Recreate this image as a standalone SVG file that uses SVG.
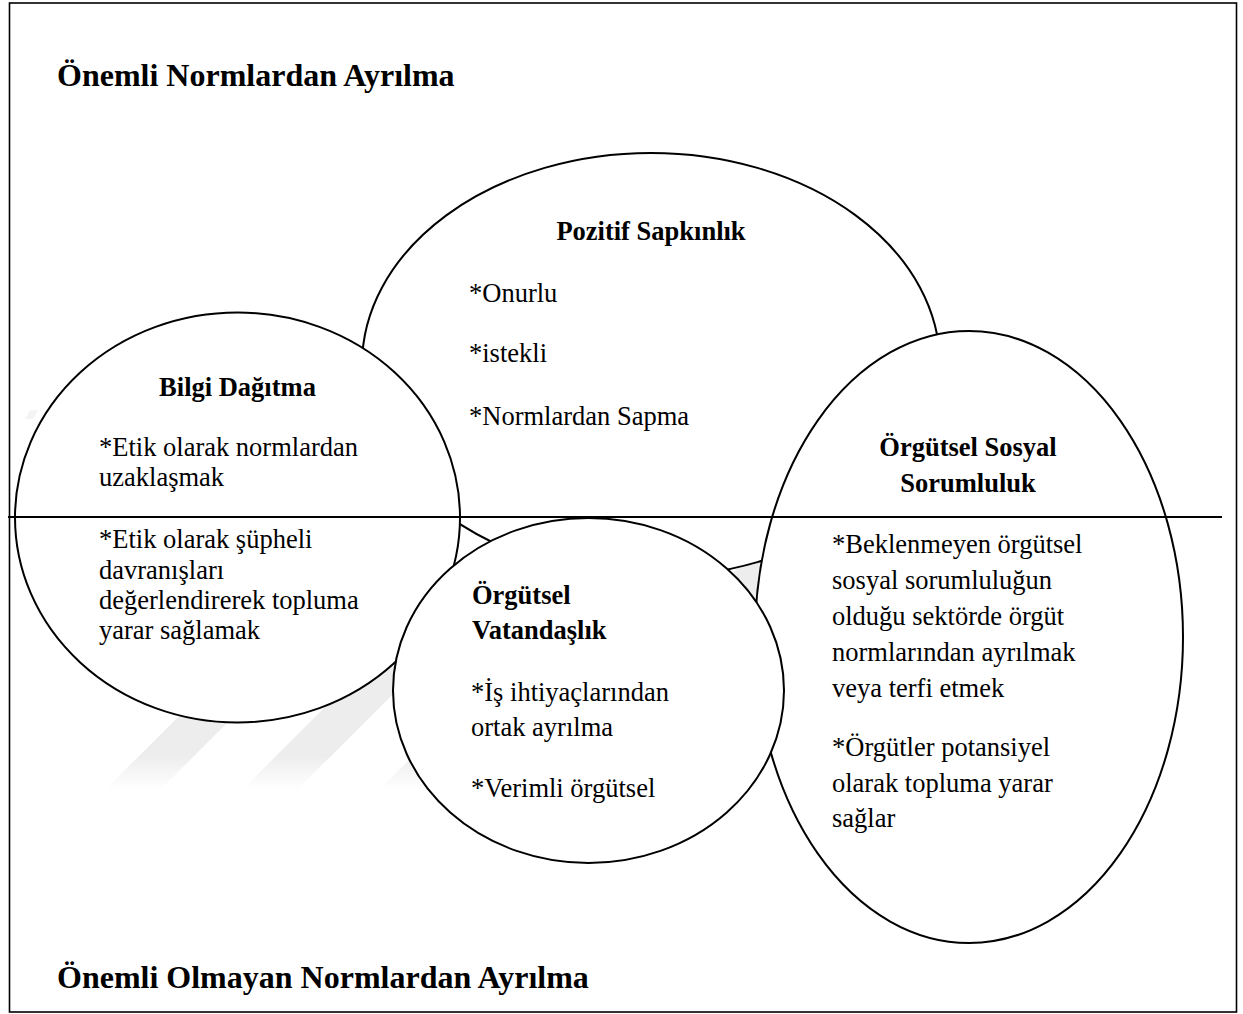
<svg xmlns="http://www.w3.org/2000/svg" width="1243" height="1014" viewBox="0 0 1243 1014">
  <style>
    .t { font-family: "Liberation Serif", "Times New Roman", serif; font-size: 26.5px; fill: #000; }
    .b { font-weight: bold; }
    .title { font-family: "Liberation Serif", "Times New Roman", serif; font-size: 32px; font-weight: bold; fill: #000; }
    .node { fill: #fff; stroke: #000; stroke-width: 2; }
    .stripe { fill: url(#fade); }
  </style>
  <defs>
    <linearGradient id="fade" gradientUnits="userSpaceOnUse" x1="0" y1="755" x2="0" y2="790">
      <stop offset="0" stop-color="#ededed"/>
      <stop offset="1" stop-color="#ffffff"/>
    </linearGradient>
  </defs>
  <rect x="0" y="0" width="1243" height="1014" fill="#fff"/>
  <g id="watermark">
    <polygon class="stripe" points="105,790 160,790 465,485 410,485"/>
    <polygon class="stripe" points="242,790 297,790 602,485 547,485"/>
    <polygon class="stripe" points="379,790 434,790 739,485 684,485"/>
    <polygon class="stripe" points="516,790 571,790 876,485 821,485"/>
    <polygon points="25,419 33,419 38,410 30,410" fill="#f4f4f4"/>
  </g>
  <rect id="frame" x="9.5" y="3" width="1227" height="1009" fill="none" stroke="#000" stroke-width="1.6"/>
  <g id="node-pozitif">
    <ellipse class="node" cx="651" cy="365" rx="289" ry="212"/>
    <text class="t b" x="651" y="240" text-anchor="middle">Pozitif Sapkınlık</text>
    <text class="t" x="469" y="302">*Onurlu</text>
    <text class="t" x="469" y="362">*istekli</text>
    <text class="t" x="469" y="425">*Normlardan Sapma</text>
  </g>
  <g id="node-bilgi">
    <ellipse class="node" cx="237.5" cy="517.5" rx="222.5" ry="205"/>
    <text class="t b" x="237.5" y="396" text-anchor="middle">Bilgi Dağıtma</text>
    <text class="t" x="99" y="456">*Etik olarak normlardan</text>
    <text class="t" x="99" y="486">uzaklaşmak</text>
    <text class="t" x="99" y="548">*Etik olarak şüpheli</text>
    <text class="t" x="99" y="579">davranışları</text>
    <text class="t" x="99" y="609">değerlendirerek topluma</text>
    <text class="t" x="99" y="639">yarar sağlamak</text>
  </g>
  <g id="node-sosyal">
    <ellipse class="node" cx="969" cy="637" rx="214" ry="306"/>
    <text class="t b" x="968" y="456" text-anchor="middle">Örgütsel Sosyal</text>
    <text class="t b" x="968" y="492" text-anchor="middle">Sorumluluk</text>
    <text class="t" x="832" y="553">*Beklenmeyen örgütsel</text>
    <text class="t" x="832" y="589">sosyal sorumluluğun</text>
    <text class="t" x="832" y="625">olduğu sektörde örgüt</text>
    <text class="t" x="832" y="661">normlarından ayrılmak</text>
    <text class="t" x="832" y="697">veya terfi etmek</text>
    <text class="t" x="832" y="756">*Örgütler potansiyel</text>
    <text class="t" x="832" y="792">olarak topluma yarar</text>
    <text class="t" x="832" y="827">sağlar</text>
  </g>
  <g id="node-vatandaslik">
    <ellipse class="node" cx="588.5" cy="690.5" rx="195.5" ry="172.5"/>
    <text class="t b" x="472" y="604">Örgütsel</text>
    <text class="t b" x="472" y="639">Vatandaşlık</text>
    <text class="t" x="471" y="701">*İş ihtiyaçlarından</text>
    <text class="t" x="471" y="736">ortak ayrılma</text>
    <text class="t" x="471" y="797">*Verimli örgütsel</text>
  </g>
  <g id="connectors">
    <line x1="8" y1="517" x2="1222" y2="517" stroke="#000" stroke-width="2"/>
  </g>
  <g id="titles">
    <text class="title" x="57" y="86">Önemli Normlardan Ayrılma</text>
    <text class="title" x="57" y="988">Önemli Olmayan Normlardan Ayrılma</text>
  </g>
</svg>
